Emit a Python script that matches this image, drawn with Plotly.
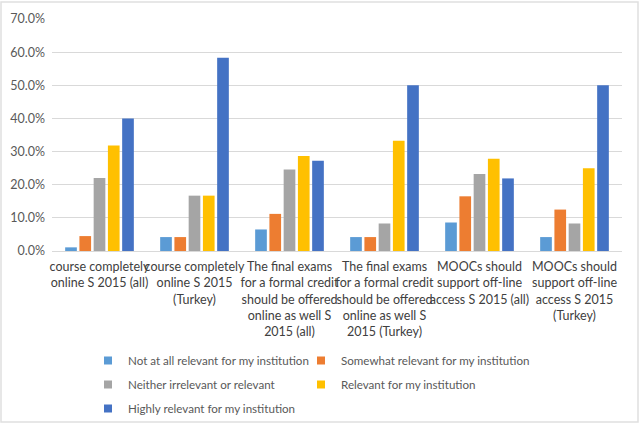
import plotly.graph_objects as go

categories = [
    "course completely<br>online S 2015 (all)",
    "course completely<br>online S 2015<br>(Turkey)",
    "The final exams<br>for a formal credit<br>should be offered<br>online as well S<br>2015 (all)",
    "The final exams<br>for a formal credit<br>should be offered<br>online as well S<br>2015 (Turkey)",
    "MOOCs should<br>support off-line<br>access S 2015 (all)",
    "MOOCs should<br>support off-line<br>access S 2015<br>(Turkey)",
]

not_at_all = [0.011, 0.042, 0.065, 0.042, 0.086, 0.042]
somewhat = [0.045, 0.042, 0.112, 0.042, 0.165, 0.125]
neither = [0.220, 0.167, 0.246, 0.083, 0.232, 0.083]
relevant = [0.318, 0.167, 0.287, 0.333, 0.278, 0.250]
highly = [0.400, 0.583, 0.272, 0.500, 0.219, 0.500]

series_names = [
    "Not at all relevant for my institution",
    "Somewhat relevant for my institution",
    "Neither irrelevant or relevant",
    "Relevant for my institution",
    "Highly relevant for my institution",
]
series_values = [not_at_all, somewhat, neither, relevant, highly]
colors = ["#5B9BD5", "#ED7D31", "#A5A5A5", "#FFC000", "#4472C4"]
legend_ids = ["legend", "legend2", "legend", "legend2", "legend"]

FONT = "Lato"
TXT = "#595959"

fig = go.Figure()
for name, vals, col, lg in zip(series_names, series_values, colors, legend_ids):
    fig.add_trace(go.Bar(
        x=categories, y=vals, name=name, marker_color=col,
        marker_line_width=0, legendgroup=name, showlegend=False,
    ))
    # legend entry with a small square swatch
    fig.add_trace(go.Scatter(
        x=[None], y=[None], mode="markers", name=name,
        marker=dict(symbol="square", size=8, color=col),
        legend=lg, legendgroup=name, showlegend=True,
    ))

legend_common = dict(
    orientation="v", xanchor="left", yanchor="top",
    font=dict(family=FONT, size=11.6, color=TXT),
    bgcolor="rgba(0,0,0,0)", tracegroupgap=5,
    itemwidth=30,
)

H = 232.0
W = 570.0

fig.update_layout(
    width=642, height=424,
    margin=dict(l=52, r=20, t=19, b=173, autoexpand=False),
    paper_bgcolor="white", plot_bgcolor="white",
    barmode="group", bargap=0.25, bargroupgap=0.18,
    font=dict(family=FONT, size=12, color=TXT),
    legend=dict(x=(88 - 52) / W, y=-(346 - 251) / H, **legend_common),
    legend2=dict(x=(301 - 52) / W, y=-(346 - 251) / H, **legend_common),
    xaxis=dict(
        tickfont=dict(family=FONT, size=12.5, color="#404040"),
        showline=True, linecolor="#D9D9D9", linewidth=1,
        ticks="", tickangle=0, automargin=False, ticklabelstandoff=4,
    ),
    yaxis=dict(
        range=[0, 0.7], dtick=0.1, tickformat=".1%",
        gridcolor="#D9D9D9", gridwidth=1, zeroline=False,
        tickfont=dict(family=FONT, size=12.5, color=TXT),
        ticks="", automargin=False, ticklabelstandoff=6,
    ),
    shapes=[dict(
        type="rect", xref="paper", yref="paper",
        x0=-51 / W, x1=(638 - 52) / W,
        y0=-(422 - 251) / H, y1=(251 - 2) / H,
        line=dict(color="#E0E0E0", width=1.5), layer="below",
    )],
)

fig.write_html("out.html")
